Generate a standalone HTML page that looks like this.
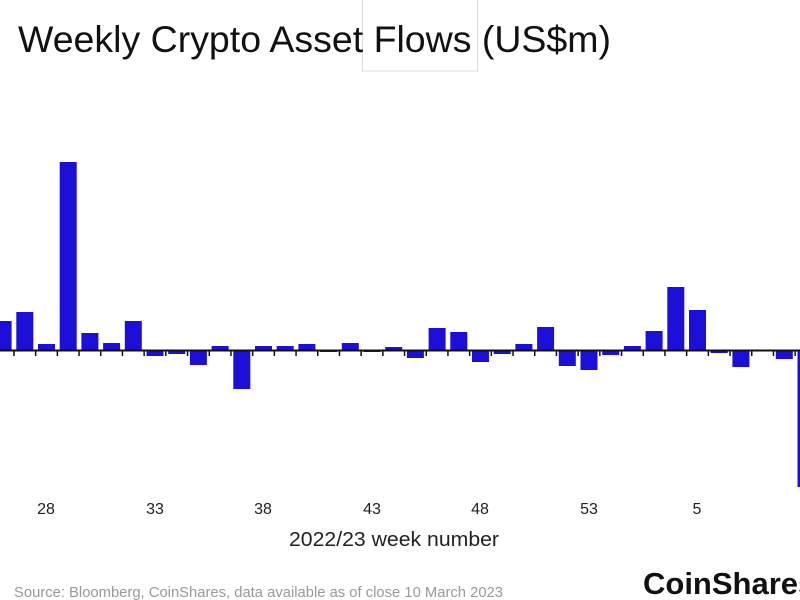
<!DOCTYPE html>
<html><head><meta charset="utf-8"><style>
body{margin:0;background:#fff;}
svg{display:block;font-family:"Liberation Sans",sans-serif;}
</style></head><body>
<svg width="800" height="600" xmlns="http://www.w3.org/2000/svg">
<rect x="362.5" y="-1" width="115" height="72" fill="none" stroke="#ddd"/>
<text x="18" y="52" font-size="37" fill="#111" textLength="593" lengthAdjust="spacingAndGlyphs">Weekly Crypto Asset Flows (US$m)</text>
<g fill="#1c10d8" id="bars"></g>
<line x1="0" y1="350.5" x2="800" y2="350.5" stroke="#111" stroke-width="2"/>
<g stroke="#111" stroke-width="1.5" id="ticks"></g>
<g font-size="16" fill="#222" text-anchor="middle">
<text x="46" y="514">28</text><text x="155" y="514">33</text><text x="263" y="514">38</text>
<text x="372" y="514">43</text><text x="480" y="514">48</text><text x="589" y="514">53</text>
<text x="697" y="514">5</text><text x="804" y="514">1</text>
</g>
<text x="394" y="546" font-size="20" fill="#222" text-anchor="middle" textLength="210" lengthAdjust="spacingAndGlyphs">2022/23 week number</text>
<text x="14" y="597" font-size="14.5" fill="#999" textLength="489" lengthAdjust="spacingAndGlyphs">Source: Bloomberg, CoinShares, data available as of close 10 March 2023</text>
<text x="643" y="594" font-size="31" font-weight="bold" fill="#111">CoinShares</text>
</svg>
<script>
var tops=[321,312,344,162,333,343,321,356,354,365,346,389,346,346,344,352,343,352,347,358,328,332,362,354,344,327,366,370,355,346,331,287,310,353,367,350,359,487];
var g=document.getElementById('bars'),t=document.getElementById('ticks'),ns='http://www.w3.org/2000/svg';
for(var i=0;i<tops.length;i++){
 var c=46.5+(i-2)*21.7, y=tops[i], base=350;
 var r=document.createElementNS(ns,'rect');
 r.setAttribute('x',c-8.5);r.setAttribute('width',17);
 r.setAttribute('y',Math.min(y,base));r.setAttribute('height',Math.abs(y-base));
 g.appendChild(r);
 var l=document.createElementNS(ns,'line');
 var tx=c+10.85;l.setAttribute('x1',tx);l.setAttribute('x2',tx);l.setAttribute('y1',350);l.setAttribute('y2',356);
 t.appendChild(l);
}
</script>
</body></html>
